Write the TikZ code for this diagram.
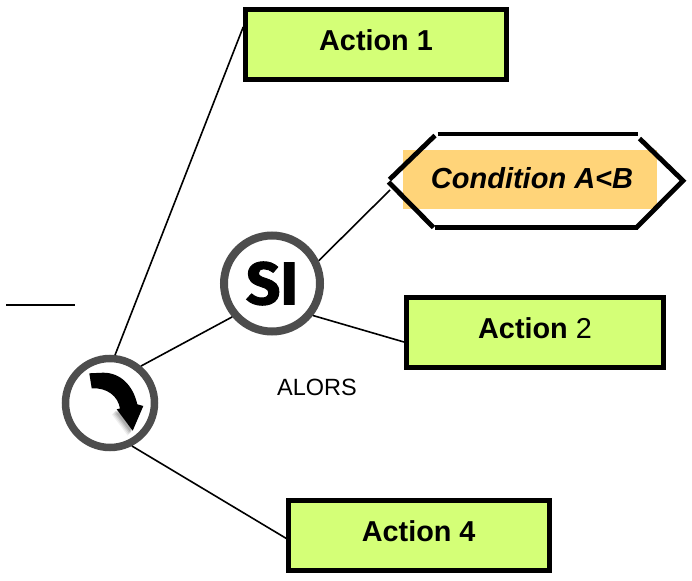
\documentclass[tikz,border=0pt]{standalone}
\usepackage{fontspec}
\setmainfont{Liberation Sans}
\newfontfamily\sifont[UprightFont=* Bold,FakeBold=1.6]{Fira Sans}
\definecolor{boxgreen}{HTML}{D4FF77}
\definecolor{condorange}{HTML}{FFD479}
\definecolor{ringgray}{HTML}{4D4D4D}
\tikzset{
  actionbox/.style={draw=black,line width=4.6pt,fill=boxgreen,minimum width=260pt,minimum height=70pt,inner sep=0pt,text depth=8pt,font=\fontsize{28.8}{32}\selectfont},
  ring/.style={circle,draw=ringgray,fill=white,inner sep=0pt},
  link/.style={draw=black,line width=1.6pt},
  hexline/.style={draw=black,line width=4.8pt},
  condbox/.style={fill=condorange,minimum width=253.5pt,minimum height=59pt,inner sep=0pt,text depth=4pt,font=\fontsize{29}{32}\selectfont\bfseries\itshape}
}
\begin{document}
\begin{tikzpicture}[x=1pt,y=-1pt]
\useasboundingbox (0,0) rectangle (692,580);
\node[actionbox,minimum width=261pt] (a1) at (376,44.5) {\textbf{Action 1}};
\node[actionbox,minimum width=257.5pt] (a2) at (535,332.5) {\textbf{Action} 2};
\node[actionbox,minimum width=261pt] (a4) at (418.7,535.5) {\textbf{Action 4}};
\node[condbox] (cond) at (530,179.5) {\hspace{4pt}Condition A<B};
\draw[hexline] (437.5,134) -- (637.5,134);
\draw[hexline] (435,135.5) -- (389.5,179.5);
\draw[hexline] (388.5,182) -- (433.5,227.5);
\draw[hexline] (435,227.7) -- (637.5,227.7);
\draw[hexline,line join=miter] (639.5,138.5) -- (683,180.7) -- (636,228);
\coordinate (hexleft) at (390,190);
\node[ring,line width=7.5pt,minimum size=89pt] (c1) at (110,403) {};
\node[ring,line width=8pt,minimum size=96pt] (si) at (272,283.5) {\sifont\fontsize{60}{62}\selectfont SI};
\node[font=\fontsize{23.5}{26}\selectfont] (alors) at (317,387) {ALORS};
\coordinate (dashL) at (6,305);
\coordinate (dashR) at (75,305);
\draw[link] (dashL) -- (dashR);
\draw[link] (c1.84) -- ([yshift=17.5pt]a1.west);
\draw[link] (c1.50) -- (si.220);
\draw[link] (c1.-63) -- ([yshift=-4.5pt,xshift=3pt]a4.west);
\draw[link] (si.26) -- (hexleft);
\draw[link] (si.-38) -- ([yshift=-9.5pt]a2.west);
% arrow shadow
\foreach \d/\o in {5/0.06,4/0.08,3/0.1,2/0.12}{
  \fill[black,opacity=\o] (116.7-\d,409.3+\d) -- (132.7-\d,430.7+\d) -- (143.3-\d,406+\d) -- cycle;
}
\fill[black] (89.3,373.3) -- (91.7,388.3) .. controls (107,387.5) and (118,396) .. (120,408.5)
  -- (116.7,409.3) -- (132.7,430.7) -- (143.3,406) -- (137.3,404.3)
  .. controls (133,385) and (120,372.5) .. (103,372.7) -- cycle;
\end{tikzpicture}
\end{document}
